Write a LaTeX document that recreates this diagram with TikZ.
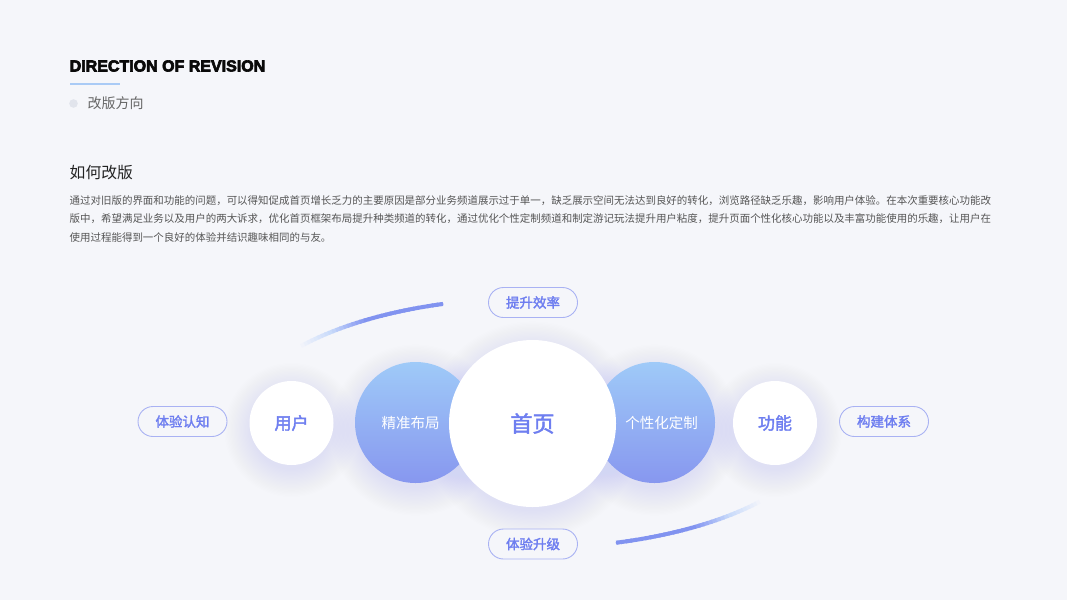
\documentclass[tikz,border=0pt]{standalone}
\usepackage{fontspec}
\setmainfont{Noto Sans CJK SC}
\newfontfamily\titlefont[FakeBold=4]{Liberation Sans}
\newfontfamily\cjkmed[FakeBold=2]{Noto Sans CJK SC}
\usetikzlibrary{calc}
\definecolor{bgc}{HTML}{F5F6FA}
\definecolor{titlec}{HTML}{0A0A0A}
\definecolor{linec}{HTML}{AACBF6}
\definecolor{dotc}{HTML}{E1E4EC}
\definecolor{subc}{HTML}{666666}
\definecolor{headc}{HTML}{222222}
\definecolor{parac}{HTML}{555555}
\definecolor{labc}{HTML}{6E7EF0}
\definecolor{pillc}{HTML}{A9B2F3}
\definecolor{gtop}{HTML}{9FCAF8}
\definecolor{gbot}{HTML}{8797EF}
\definecolor{glowc}{HTML}{D2D6F4}
\definecolor{arcc}{HTML}{8193F0}
\definecolor{arcl}{HTML}{C9DBFA}
\tikzset{
  pill/.style={draw=pillc, line width=0.9pt, rounded corners=15pt, minimum width=89pt, minimum height=30pt, inner sep=0pt, text=labc, font=\cjkmed\fontsize{13.5}{14}\selectfont, fill=bgc},
  whitec/.style={circle, fill=white, inner sep=0pt, text=labc},
  gradc/.style={circle, top color=gtop, bottom color=gbot, inner sep=0pt, text=white, font=\fontsize{14.5}{15}\selectfont},
  paraline/.style={anchor=west, inner sep=0pt, text=parac, font=\fontsize{10.47}{11}\selectfont},
}
\begin{document}
\begin{tikzpicture}[x=1pt,y=-1pt]
\fill[bgc] (0,0) rectangle (1067,600);
\useasboundingbox (0,0) rectangle (1067,600);
% header
\node[anchor=base west, inner sep=0pt, text=titlec, font=\titlefont\bfseries\fontsize{16}{16}\selectfont] (title) at (69.5,71.5) {DIRECTION OF REVISION};
\draw[linec, line width=2.2pt] (70,84) -- (120,84);
\fill[dotc] (73.5,103.5) circle (4.3);
\node[anchor=west, inner sep=0pt, text=subc, font=\fontsize{14}{14}\selectfont] (sub) at (87.5,103.5) {改版方向};
\node[anchor=west, inner sep=0pt, text=headc, font=\fontsize{15.8}{16}\selectfont] (head) at (69.5,172.5) {如何改版};
\node[paraline] (p1) at (69.5,200.5) {通过对旧版的界面和功能的问题，可以得知促成首页增长乏力的主要原因是部分业务频道展示过于单一，缺乏展示空间无法达到良好的转化，浏览路径缺乏乐趣，影响用户体验。在本次重要核心功能改};
\node[paraline] (p2) at (69.5,219) {版中，希望满足业务以及用户的两大诉求，优化首页框架布局提升种类频道的转化，通过优化个性定制频道和制定游记玩法提升用户粘度，提升页面个性化核心功能以及丰富功能使用的乐趣，让用户在};
\node[paraline] (p3) at (69.5,237.5) {使用过程能得到一个良好的体验并结识趣味相同的与友。};
% arcs
\foreach \i in {0,...,34}{
  \pgfmathsetmacro{\ta}{143-\i}
  \pgfmathsetmacro{\tb}{142-\i-0.3}
  \pgfmathtruncatemacro{\p}{min(100,\i*100/18)}
  \ifnum\p<50
    \pgfmathtruncatemacro{\q}{2*\p}
    \colorlet{segc}{arcl!\q!bgc}
  \else
    \pgfmathtruncatemacro{\q}{2*\p-100}
    \colorlet{segc}{arcc!\q!arcl}
  \fi
  \draw[segc, line width=4pt] ({532+293*cos(\ta)},{423-125*sin(\ta)}) -- ({532+293*cos(\tb)},{423-125*sin(\tb)});
  \pgfmathsetmacro{\tc}{-38-\i}
  \pgfmathsetmacro{\td}{-39-\i-0.3}
  \draw[segc, line width=4pt] ({532+293*cos(\tc)},{423-125*sin(\tc)}) -- ({532+293*cos(\td)},{423-125*sin(\td)});
}
\fill[arcc] ({532+293*cos(108)},{423-125*sin(108)}) circle (2pt);
\fill[arcc] ({532+293*cos(-73)},{423-125*sin(-73)}) circle (2pt);
% glows
\foreach \cx/\r in {291.5/42, 415.5/60.5, 532.5/83.5, 654.5/60.5, 775/42}{
  \foreach \k in {1,...,22}{
    \fill[glowc, opacity=0.028] (\cx,430) circle ({\r-4+1.3*\k});
  }
}
% circles
\node[gradc, minimum size=121pt] (jz) at (415.5,422.5) {精准布局\hspace*{10pt}};
\node[gradc, minimum size=121pt] (gx) at (654.5,422.5) {\hspace*{14pt}个性化定制};
\node[whitec, minimum size=167pt, font=\cjkmed\fontsize{22}{22}\selectfont] (sy) at (532.5,423.5) {首页};
\node[whitec, minimum size=84pt, font=\cjkmed\fontsize{17}{17}\selectfont] (yh) at (291.5,423) {用户};
\node[whitec, minimum size=84pt, font=\cjkmed\fontsize{17}{17}\selectfont] (gn) at (775,423) {功能};
% pills
\node[pill] (tx) at (533,302.5) {提升效率};
\node[pill] (ts) at (533,544) {体验升级};
\node[pill] (rz) at (182.5,421.5) {体验认知};
\node[pill] (gj) at (884,421.5) {构建体系};
\end{tikzpicture}
\end{document}
